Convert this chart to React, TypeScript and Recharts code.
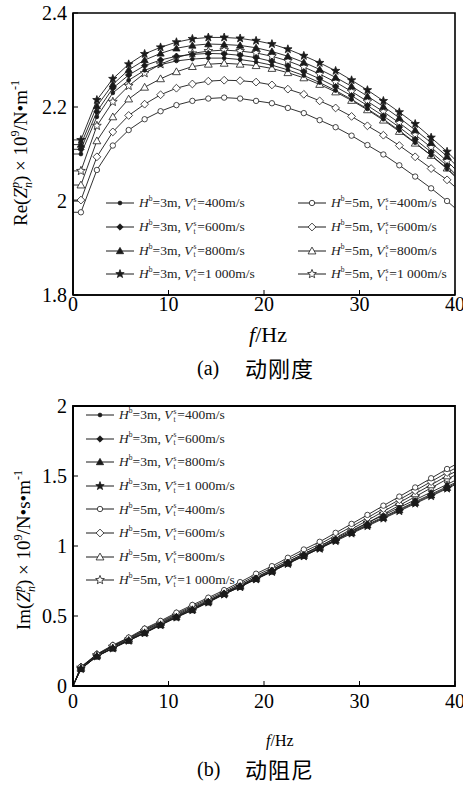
import React from 'react';
import { LineChart, Line, XAxis, YAxis, ReferenceArea } from 'recharts';

// Frequencies (Hz): axis start, marker points, axis end
const FREQ = [0, 0.83, 2.5, 4.17, 5.83, 7.5, 9.17, 10.83, 12.5, 14.17, 15.83, 17.5, 19.17, 20.83, 22.5, 24.17, 25.83, 27.5, 29.17, 30.83, 32.5, 34.17, 35.83, 37.5, 39.17, 40];

// (a) Re(Z) x 1e9 N/m
const RE_H3_V400 = [2.100, 2.100, 2.179, 2.230, 2.257, 2.278, 2.290, 2.298, 2.302, 2.304, 2.304, 2.301, 2.296, 2.289, 2.279, 2.267, 2.252, 2.235, 2.216, 2.196, 2.174, 2.150, 2.124, 2.097, 2.068, 2.052];
const RE_H3_V600 = [2.110, 2.110, 2.190, 2.240, 2.268, 2.288, 2.300, 2.308, 2.312, 2.314, 2.313, 2.310, 2.305, 2.297, 2.287, 2.275, 2.260, 2.243, 2.224, 2.203, 2.181, 2.157, 2.131, 2.104, 2.075, 2.058];
const RE_H3_V800 = [2.120, 2.120, 2.202, 2.248, 2.279, 2.300, 2.314, 2.325, 2.331, 2.334, 2.333, 2.331, 2.326, 2.318, 2.308, 2.295, 2.280, 2.263, 2.244, 2.223, 2.201, 2.177, 2.151, 2.124, 2.095, 2.078];
const RE_H3_V1000 = [2.130, 2.130, 2.215, 2.260, 2.291, 2.313, 2.327, 2.338, 2.345, 2.348, 2.348, 2.346, 2.341, 2.334, 2.323, 2.309, 2.294, 2.277, 2.257, 2.236, 2.213, 2.189, 2.164, 2.135, 2.105, 2.088];
const RE_H5_V400 = [1.976, 1.976, 2.066, 2.118, 2.151, 2.174, 2.191, 2.204, 2.213, 2.218, 2.220, 2.218, 2.213, 2.208, 2.198, 2.187, 2.172, 2.157, 2.139, 2.119, 2.099, 2.076, 2.052, 2.027, 2.000, 1.985];
const RE_H5_V600 = [2.002, 2.002, 2.094, 2.147, 2.182, 2.206, 2.226, 2.240, 2.249, 2.255, 2.257, 2.256, 2.253, 2.247, 2.238, 2.227, 2.213, 2.198, 2.180, 2.160, 2.140, 2.118, 2.094, 2.069, 2.045, 2.030];
const RE_H5_V800 = [2.034, 2.034, 2.128, 2.179, 2.217, 2.242, 2.260, 2.275, 2.286, 2.291, 2.293, 2.291, 2.288, 2.282, 2.273, 2.262, 2.248, 2.232, 2.214, 2.194, 2.172, 2.148, 2.123, 2.097, 2.070, 2.054];
const RE_H5_V1000 = [2.064, 2.064, 2.160, 2.211, 2.245, 2.272, 2.291, 2.305, 2.314, 2.319, 2.321, 2.319, 2.315, 2.308, 2.298, 2.285, 2.270, 2.253, 2.233, 2.212, 2.190, 2.166, 2.141, 2.114, 2.085, 2.068];

// (b) Im(Z) x 1e9 N.s/m
const IM_H3_V400 = [0, 0.125, 0.215, 0.273, 0.329, 0.384, 0.442, 0.498, 0.551, 0.607, 0.667, 0.720, 0.776, 0.831, 0.889, 0.944, 1.000, 1.055, 1.110, 1.165, 1.220, 1.275, 1.330, 1.385, 1.440, 1.468];
const IM_H3_V600 = [0, 0.123, 0.213, 0.271, 0.326, 0.381, 0.438, 0.494, 0.546, 0.602, 0.661, 0.714, 0.769, 0.824, 0.881, 0.936, 0.991, 1.046, 1.100, 1.154, 1.208, 1.262, 1.316, 1.370, 1.424, 1.452];
const IM_H3_V800 = [0, 0.122, 0.212, 0.269, 0.324, 0.379, 0.436, 0.491, 0.543, 0.599, 0.658, 0.710, 0.765, 0.819, 0.876, 0.931, 0.986, 1.040, 1.094, 1.148, 1.202, 1.256, 1.309, 1.363, 1.416, 1.444];
const IM_H3_V1000 = [0, 0.121, 0.211, 0.268, 0.323, 0.377, 0.434, 0.489, 0.541, 0.596, 0.655, 0.707, 0.762, 0.816, 0.873, 0.927, 0.982, 1.035, 1.089, 1.142, 1.196, 1.249, 1.303, 1.356, 1.410, 1.437];
const IM_H5_V400 = [0, 0.137, 0.228, 0.292, 0.346, 0.410, 0.465, 0.524, 0.579, 0.631, 0.685, 0.742, 0.802, 0.856, 0.916, 0.975, 1.030, 1.094, 1.158, 1.222, 1.288, 1.353, 1.418, 1.484, 1.550, 1.580];
const IM_H5_V600 = [0, 0.135, 0.225, 0.288, 0.341, 0.404, 0.458, 0.516, 0.570, 0.621, 0.674, 0.730, 0.789, 0.842, 0.901, 0.959, 1.013, 1.076, 1.139, 1.202, 1.267, 1.331, 1.395, 1.460, 1.525, 1.554];
const IM_H5_V800 = [0, 0.133, 0.222, 0.284, 0.336, 0.398, 0.452, 0.509, 0.562, 0.612, 0.664, 0.719, 0.777, 0.829, 0.887, 0.944, 0.997, 1.059, 1.121, 1.183, 1.247, 1.310, 1.373, 1.437, 1.501, 1.530];
const IM_H5_V1000 = [0, 0.131, 0.220, 0.281, 0.332, 0.393, 0.446, 0.503, 0.555, 0.604, 0.655, 0.709, 0.766, 0.817, 0.874, 0.930, 0.982, 1.043, 1.104, 1.165, 1.228, 1.290, 1.352, 1.415, 1.478, 1.506];

const X_TICKS = [0, 10, 20, 30, 40];
const RE_TICKS = [1.8, 2, 2.2, 2.4];
const IM_TICKS = [0, 0.5, 1, 1.5, 2];

type Shape = 'dot' | 'diamond' | 'triangle' | 'star' | 'circle';
interface SeriesDef { key: string; h: string; v: string; shape: Shape; filled: boolean; }

const SERIES: SeriesDef[] = [
  { key: 'h3v400', h: '3', v: '400', shape: 'dot', filled: true },
  { key: 'h3v600', h: '3', v: '600', shape: 'diamond', filled: true },
  { key: 'h3v800', h: '3', v: '800', shape: 'triangle', filled: true },
  { key: 'h3v1000', h: '3', v: '1 000', shape: 'star', filled: true },
  { key: 'h5v400', h: '5', v: '400', shape: 'circle', filled: false },
  { key: 'h5v600', h: '5', v: '600', shape: 'diamond', filled: false },
  { key: 'h5v800', h: '5', v: '800', shape: 'triangle', filled: false },
  { key: 'h5v1000', h: '5', v: '1 000', shape: 'star', filled: false },
];

const RE_VALUES: Record<string, number[]> = {
  h3v400: RE_H3_V400, h3v600: RE_H3_V600, h3v800: RE_H3_V800, h3v1000: RE_H3_V1000,
  h5v400: RE_H5_V400, h5v600: RE_H5_V600, h5v800: RE_H5_V800, h5v1000: RE_H5_V1000,
};
const IM_VALUES: Record<string, number[]> = {
  h3v400: IM_H3_V400, h3v600: IM_H3_V600, h3v800: IM_H3_V800, h3v1000: IM_H3_V1000,
  h5v400: IM_H5_V400, h5v600: IM_H5_V600, h5v800: IM_H5_V800, h5v1000: IM_H5_V1000,
};

const buildRows = (vals: Record<string, number[]>) =>
  FREQ.map((f, i) => {
    const row: Record<string, number> = { f };
    SERIES.forEach((s) => { row[s.key] = vals[s.key][i]; });
    return row;
  });

const reData = buildRows(RE_VALUES);
const imData = buildRows(IM_VALUES);

const SERIF = '"Liberation Serif", "Times New Roman", serif';
const INK = '#1a1a1a';

function starPath(cx: number, cy: number, R: number, r: number) {
  let d = '';
  for (let k = 0; k < 10; k++) {
    const a = (-90 + 36 * k) * Math.PI / 180;
    const rr = k % 2 === 0 ? R : r;
    d += (k === 0 ? 'M' : 'L') + (cx + rr * Math.cos(a)).toFixed(2) + ',' + (cy + rr * Math.sin(a)).toFixed(2);
  }
  return d + 'Z';
}

function Marker({ shape, filled, cx, cy }: { shape: Shape; filled: boolean; cx: number; cy: number }) {
  const fill = filled ? INK : '#fff';
  const common = { fill, stroke: INK, strokeWidth: 0.8 };
  switch (shape) {
    case 'dot':
      return <circle cx={cx} cy={cy} r={1.9} {...common} />;
    case 'circle':
      return <circle cx={cx} cy={cy} r={2.7} {...common} />;
    case 'diamond': {
      const s = filled ? 3.2 : 3.9;
      return <path d={`M${cx},${cy - s}L${cx + s},${cy}L${cx},${cy + s}L${cx - s},${cy}Z`} {...common} />;
    }
    case 'triangle': {
      const s = filled ? 3.6 : 3.9;
      return <path d={`M${cx},${cy - s}L${cx + s},${cy + s * 0.75}L${cx - s},${cy + s * 0.75}Z`} {...common} />;
    }
    case 'star':
    default:
      return <path d={starPath(cx, cy, filled ? 4.4 : 4.6, filled ? 1.8 : 2.0)} {...common} />;
  }
}

const makeDot = (shape: Shape, filled: boolean) => (props: any) => {
  const { cx, cy, index } = props;
  const k = `dot-${shape}-${filled ? 'f' : 'o'}-${index}`;
  if (index === 0 || index === FREQ.length - 1 || cx == null || cy == null) return <g key={k} />;
  return <g key={k}><Marker shape={shape} filled={filled} cx={cx} cy={cy} /></g>;
};

const ReLabel = () => (
  <text transform="translate(27,153) rotate(-90)" textAnchor="middle" fontFamily={SERIF} fontSize={19} fill="#000">
    <tspan>Re(</tspan>
    <tspan fontStyle="italic">Z</tspan>
    <tspan fontStyle="italic" fontSize={12} dy={-8}>p</tspan>
    <tspan fontStyle="italic" fontSize={12} dx={-6} dy={13}>n</tspan>
    <tspan dy={-5}>) × 10</tspan>
    <tspan fontSize={12} dy={-8}>9</tspan>
    <tspan dy={8}>/N•m</tspan>
    <tspan fontSize={12} dy={-8}>-1</tspan>
  </text>
);

const ImLabel = () => (
  <text transform="translate(30,160) rotate(-90)" textAnchor="middle" fontFamily={SERIF} fontSize={19} fill="#000">
    <tspan>Im(</tspan>
    <tspan fontStyle="italic">Z</tspan>
    <tspan fontStyle="italic" fontSize={12} dy={-8}>p</tspan>
    <tspan fontStyle="italic" fontSize={12} dx={-6} dy={13}>n</tspan>
    <tspan dy={-5}>) × 10</tspan>
    <tspan fontSize={12} dy={-8}>9</tspan>
    <tspan dy={8}>/N•s•m</tspan>
    <tspan fontSize={12} dy={-8}>-1</tspan>
  </text>
);

function LegendIcon({ shape, filled }: { shape: Shape; filled: boolean }) {
  return (
    <svg width={28} height={12} style={{ display: 'block', flex: 'none' }}>
      <line x1={0} y1={6} x2={28} y2={6} stroke={INK} strokeWidth={1} />
      <Marker shape={shape} filled={filled} cx={14} cy={6} />
    </svg>
  );
}

function LegendText({ s }: { s: SeriesDef }) {
  const stack: React.CSSProperties = {
    display: 'inline-flex', flexDirection: 'column', fontSize: 7.5, lineHeight: '8px',
    verticalAlign: 'middle', marginLeft: 1, marginRight: 1,
  };
  return (
    <span style={{ fontFamily: SERIF, fontSize: 13.5, color: '#222', whiteSpace: 'nowrap' }}>
      <i>H</i><sup style={{ fontSize: 7.5 }}>b</sup>={s.h}m, <i>V</i>
      <span style={stack}><span>s</span><span>t</span></span>={s.v}m/s
    </span>
  );
}

function LegendRow({ s, left, top }: { s: SeriesDef; left: number; top: number }) {
  return (
    <div style={{ position: 'absolute', left, top: top - 9, height: 18, display: 'flex', alignItems: 'center', gap: 5 }}>
      <LegendIcon shape={s.shape} filled={s.filled} />
      <LegendText s={s} />
    </div>
  );
}

const axisTick = { fontFamily: SERIF, fontSize: 20, fill: '#000' };

function TopChart() {
  return (
    <LineChart width={463} height={390} data={reData} margin={{ top: 13, right: 8, left: 0, bottom: 65 }}>
      <ReferenceArea x1={0} x2={40} y1={1.8} y2={2.4} fill="none" stroke="#000" strokeWidth={1.6} ifOverflow="visible" />
      <XAxis dataKey="f" type="number" domain={[0, 40]} ticks={X_TICKS} height={30}
        axisLine={{ stroke: '#000', strokeWidth: 1.6 }} tickLine={{ stroke: '#000' }}
        tickSize={-5} tickMargin={7} tick={axisTick} interval={0} />
      <YAxis type="number" domain={[1.8, 2.4]} ticks={RE_TICKS} width={73}
        axisLine={{ stroke: '#000', strokeWidth: 1.6 }} tickLine={{ stroke: '#000' }}
        tickSize={-5} tickMargin={11} tick={axisTick} interval={0}
        label={{ content: () => <ReLabel /> }} />
      {SERIES.slice().reverse().map((s) => (
        <Line key={s.key} dataKey={s.key} type="linear" stroke={INK} strokeWidth={0.9}
          dot={makeDot(s.shape, s.filled)} activeDot={false} isAnimationActive={false} />
      ))}
    </LineChart>
  );
}

function BottomChart() {
  return (
    <LineChart width={463} height={395} data={imData} margin={{ top: 16, right: 8, left: 0, bottom: 69 }}>
      <ReferenceArea x1={0} x2={40} y1={0} y2={2} fill="none" stroke="#000" strokeWidth={1.8} ifOverflow="visible" />
      <XAxis dataKey="f" type="number" domain={[0, 40]} ticks={X_TICKS} height={30}
        axisLine={{ stroke: '#000', strokeWidth: 1.8 }} tickLine={{ stroke: '#000' }}
        tickSize={-5} tickMargin={13} tick={axisTick} interval={0} />
      <YAxis type="number" domain={[0, 2]} ticks={IM_TICKS} width={73}
        axisLine={{ stroke: '#000', strokeWidth: 1.8 }} tickLine={{ stroke: '#000' }}
        tickSize={-5} tickMargin={11} tick={axisTick} interval={0}
        label={{ content: () => <ImLabel /> }} />
      {SERIES.slice().reverse().map((s) => (
        <Line key={s.key} dataKey={s.key} type="linear" stroke={INK} strokeWidth={0.9}
          dot={makeDot(s.shape, s.filled)} activeDot={false} isAnimationActive={false} />
      ))}
    </LineChart>
  );
}

const ROWS_TOP = [203, 227, 250.5, 274];
const ROWS_BOTTOM = [415, 438.6, 462.2, 485.8, 509.4, 533, 556.6, 580.2];

function Caption({ tag, text, top }: { tag: string; text: string; top: number }) {
  return (
    <div style={{ position: 'absolute', left: 0, top, width: 463, height: 26 }}>
      <span style={{ position: 'absolute', left: 197, top: 2, fontFamily: SERIF, fontSize: 20, lineHeight: '24px', color: '#000' }}>{tag}</span>
      <span style={{ position: 'absolute', left: 245, top: 0, fontFamily: '"Noto Sans CJK SC", sans-serif', fontSize: 22, lineHeight: '26px', color: '#000', letterSpacing: 1 }}>{text}</span>
    </div>
  );
}

export default function App() {
  return (
    <div style={{ position: 'absolute', left: 0, top: 0, width: 463, height: 785, background: '#fff', overflow: 'hidden' }}>
      <div style={{ position: 'absolute', left: 0, top: 0 }}>
        <TopChart />
      </div>
      <div style={{ position: 'absolute', left: 0, top: 390 }}>
        <BottomChart />
      </div>

      {SERIES.slice(0, 4).map((s, i) => (
        <LegendRow key={s.key} s={s} left={106} top={ROWS_TOP[i]} />
      ))}
      {SERIES.slice(4).map((s, i) => (
        <LegendRow key={s.key} s={s} left={298} top={ROWS_TOP[i]} />
      ))}
      {SERIES.map((s, i) => (
        <LegendRow key={'b' + s.key} s={s} left={86} top={ROWS_BOTTOM[i]} />
      ))}

      <div style={{ position: 'absolute', left: 249, top: 323, fontFamily: SERIF, fontSize: 22, lineHeight: '24px', color: '#000' }}>
        <i>f</i>/Hz
      </div>
      <div style={{ position: 'absolute', left: 266, top: 732, fontFamily: SERIF, fontSize: 16, lineHeight: '18px', color: '#000' }}>
        <i>f</i>/Hz
      </div>
      <Caption tag="(a)" text="动刚度" top={354} />
      <Caption tag="(b)" text="动阻尼" top={755} />
    </div>
  );
}
